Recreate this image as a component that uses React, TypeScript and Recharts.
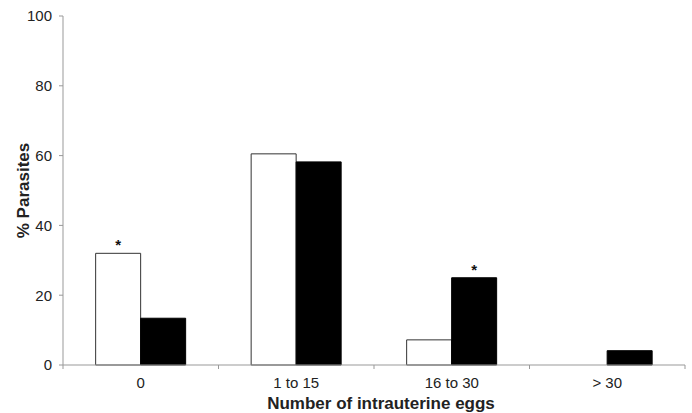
import React from "react";
import { BarChart, Bar, XAxis, YAxis, LabelList } from "recharts";

// Egg count classes and % of parasites per group
const categories = ["0", "1 to 15", "16 to 30", "> 30"];
const whiteValues = [32.0, 60.5, 7.2, 0];
const blackValues = [13.4, 58.2, 25.0, 4.1];
// significance marks shown above bars
const whiteSig = ["*", "", "", ""];
const blackSig = ["", "", "*", ""];
const yTicks = [0, 20, 40, 60, 80, 100];

const data = categories.map((name, i) => ({
  name,
  white: whiteValues[i],
  black: blackValues[i],
  whiteSig: whiteSig[i],
  blackSig: blackSig[i],
}));

const font = "'Liberation Sans', Arial, sans-serif";
const axisColor = "#999";
const textColor = "#222";

// category label centred in the band, tick marks on the band edges
const CategoryTick = (props: any) => {
  const { x, y, payload, index, visibleTicksCount } = props;
  const half = payload?.offset ?? 0;
  const isLast = index === (visibleTicksCount ?? categories.length) - 1;
  return (
    <g>
      <line x1={x - half} x2={x - half} y1={y} y2={y + 4} stroke={axisColor} />
      {isLast && <line x1={x + half} x2={x + half} y1={y} y2={y + 4} stroke={axisColor} />}
      <text x={x} y={y + 23} textAnchor="middle" fill={textColor} fontSize={15} fontFamily={font}>
        {payload.value}
      </text>
    </g>
  );
};

const App: React.FC = () => {
  return (
    <div style={{ position: "absolute", left: 0, top: 0, width: 692, height: 413, background: "#fff", fontFamily: font }}>
      <BarChart
        width={692}
        height={413}
        data={data}
        margin={{ top: 16, right: 7, bottom: 0, left: 0 }}
        barCategoryGap="21%"
        barGap={0}
      >
        <XAxis
          dataKey="name"
          height={48}
          axisLine={{ stroke: axisColor }}
          tickLine={false}
          tickSize={0}
          tickMargin={0}
          interval={0}
          tick={<CategoryTick />}
          label={{
            value: "Number of intrauterine eggs",
            position: "insideBottom",
            offset: 4,
            dx: 7,
            style: { fill: textColor, fontSize: 17, fontWeight: "bold", fontFamily: font },
          }}
        />
        <YAxis
          width={63}
          domain={[0, 100]}
          ticks={yTicks}
          tickSize={4}
          tickMargin={7}
          stroke={axisColor}
          axisLine={{ stroke: axisColor }}
          tickLine={{ stroke: axisColor }}
          tick={{ fill: textColor, fontSize: 15, fontFamily: font }}
          label={{
            value: "% Parasites",
            angle: -90,
            position: "center",
            dx: -9,
            style: { fill: textColor, fontSize: 17, fontWeight: "bold", fontFamily: font },
          }}
        />
        <Bar dataKey="white" fill="#fff" stroke="#333" strokeWidth={1} isAnimationActive={false}>
          <LabelList dataKey="whiteSig" position="top" offset={3} style={{ fill: "#111", fontSize: 15, fontWeight: "bold", fontFamily: font }} />
        </Bar>
        <Bar dataKey="black" fill="#000" stroke="#000" strokeWidth={1} isAnimationActive={false}>
          <LabelList dataKey="blackSig" position="top" offset={3} style={{ fill: "#111", fontSize: 15, fontWeight: "bold", fontFamily: font }} />
        </Bar>
      </BarChart>
    </div>
  );
};

export default App;
